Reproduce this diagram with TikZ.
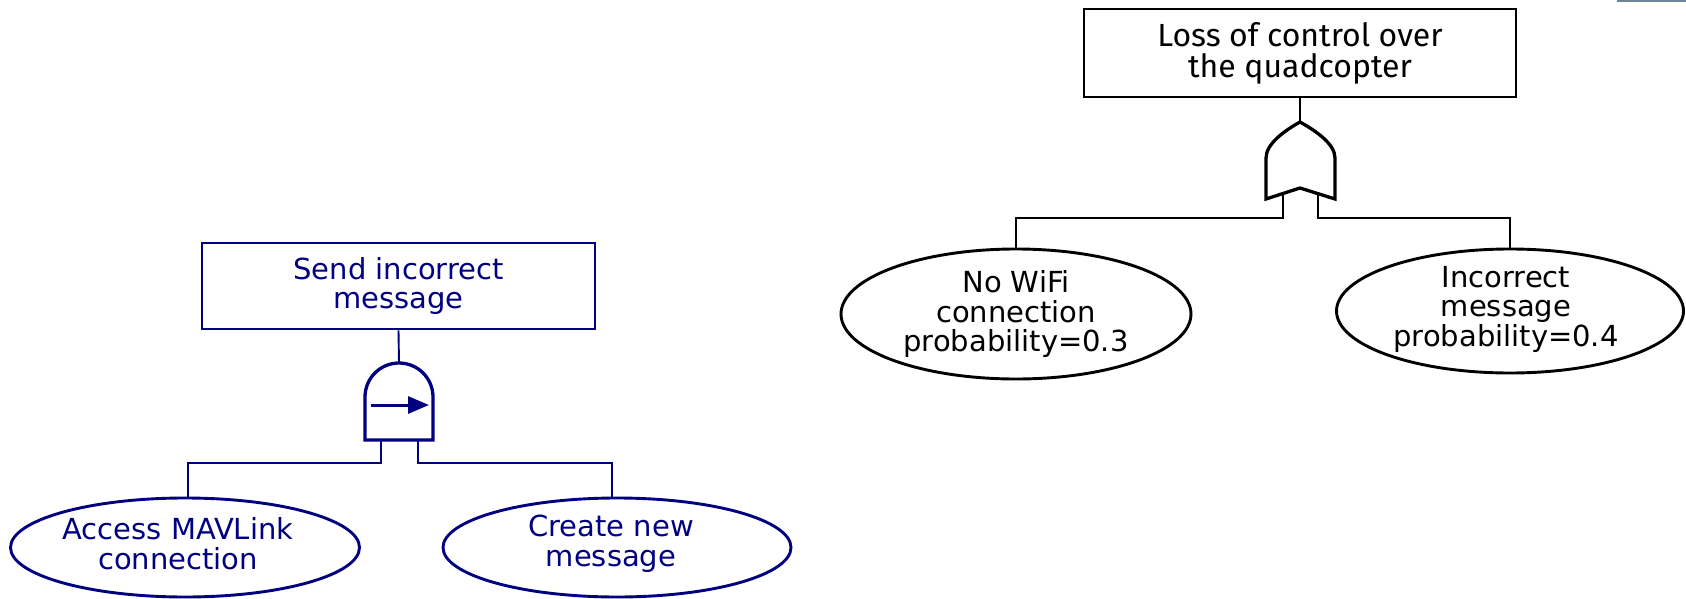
\documentclass[tikz,border=0pt]{standalone}
\usepackage{fontspec}
\setmainfont{DejaVu Sans}
\newfontfamily\toplabelfont{Fira Sans}
\usetikzlibrary{shapes.geometric,arrows.meta}
\definecolor{navyline}{RGB}{0,0,128}
\definecolor{tabbar}{RGB}{106,133,153}
\begin{document}
\begin{tikzpicture}[x=1pt,y=-1pt,
  txt/.style={font=\fontsize{29}{29.5}\selectfont, align=center, inner sep=0pt},
  evtbox/.style={txt, draw, line width=2.9pt, rectangle},
  basicev/.style={txt, draw, line width=2.9pt, ellipse},
  wire/.style={line width=1.9pt},
  gateline/.style={line width=3.3pt, line join=miter}]
\useasboundingbox (0,0) rectangle (1686,599);
\fill[tabbar] (1617,0) rectangle (1686,2.5);

% ---- right tree: OR gate ----
\node[evtbox, minimum width=432, minimum height=88,
      font=\toplabelfont\fontsize{32}{31}\selectfont] (loss) at (1300,53)
  {Loss of control over\\the quadcopter};
\node[basicev, minimum width=350, minimum height=130] (wifi) at (1016,314)
  {No WiFi\\connection\\probability=0.3};
\node[basicev, minimum width=347, minimum height=124] (incorr) at (1510,311) {};
\node[txt] (incorrTxt) at (1506,309) {Incorrect\\message\\probability=0.4};

\coordinate (orT) at (1300,122);
\coordinate (orL) at (1283,194);
\coordinate (orR) at (1318,194);
\draw[gateline] (1300,122) .. controls (1284,131) and (1266,144) .. (1266,158)
  -- (1266,199) -- (1300,188) -- (1335,199) -- (1335,158)
  .. controls (1335,144) and (1316,131) .. (1300,122) -- cycle;
\draw[wire] (loss.south) -- (orT);
\draw[wire] (orL) -- ++(0,24) -| (wifi.north);
\draw[wire] (orR) -- ++(0,24) -| (incorr.north);

% ---- left tree: priority AND gate ----
\begin{scope}[color=navyline, text=navyline]
\node[evtbox, minimum width=393, minimum height=86] (send) at (398.5,286)
  {Send incorrect\\message};
\node[basicev, minimum width=349, minimum height=99] (access) at (185,547.5) {};
\node[txt] (accessTxt) at (178,543.5) {Access MAVLink\\connection};
\node[basicev, minimum width=348, minimum height=99] (create) at (617,547.5) {};
\node[txt] (createTxt) at (611,543.5) {Create new\\message};

\coordinate (paT) at (399,363);
\coordinate (paL) at (381,440);
\coordinate (paR) at (418,440);
\draw[gateline] (365,440) -- (365,397) arc[start angle=180, end angle=360, radius=34]
  -- (433,440) -- cycle;
\draw[line width=3pt, -{Triangle[length=21pt, width=17pt]}] (371,405) -- (429,405);
\draw[wire] (send.south) -- (paT);
\draw[wire] (paL) -- ++(0,23) -| ([xshift=3pt]access.north);
\draw[wire] (paR) -- ++(0,23) -| ([xshift=-5pt]create.north);
\end{scope}
\end{tikzpicture}
\end{document}
